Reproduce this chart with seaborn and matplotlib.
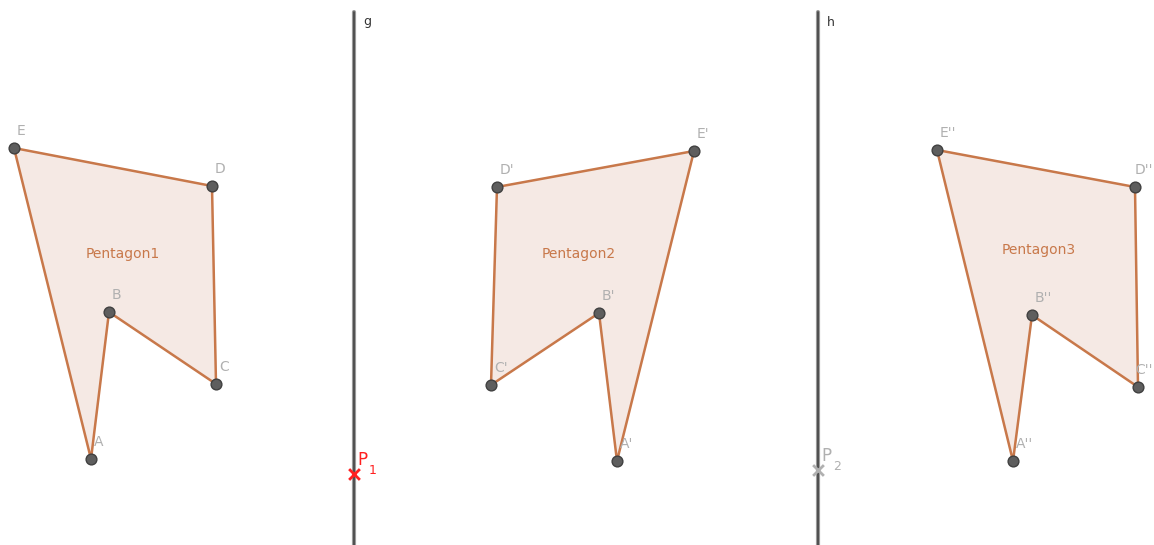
import matplotlib
matplotlib.use("Agg")
import matplotlib.pyplot as plt
import seaborn as sns
import pandas as pd

# vertex names and coordinates (screen units, y grows downward)
names1 = ["A", "B", "C", "D", "E"]
x1 = [91, 109, 216, 212, 14]
y1 = [459, 312, 384, 186, 148]

names2 = ["A'", "B'", "C'", "D'", "E'"]
x2 = [617, 599, 491, 497, 694]
y2 = [461, 313, 385, 187, 151]

names3 = ["A''", "B''", "C''", "D''", "E''"]
x3 = [1013, 1032, 1138, 1135, 937]
y3 = [461, 315, 387, 187, 150]

poly_labels = ["Pentagon1", "Pentagon2", "Pentagon3"]
poly_label_pos = [(123, 254), (579, 254), (1039, 250)]

# mirror lines
line_names = ["g", "h"]
line_x = [354, 818]
line_top = 12

# intersection points
pt_names = ["P", "P"]
pt_subs = ["1", "2"]
pt_x = [354, 818]
pt_y = [474, 470]

sns.set_style("white")
plt.rcParams["font.family"] = ["DejaVu Sans"]

edge_col = "#c8784a"
fill_col = "#f5e9e4"
pt_col = "#5e5e5e"
lab_col = "#b0b0b0"

fig = plt.figure(figsize=(11.54, 5.45), dpi=100)
ax = fig.add_axes([0, 0, 1, 1])
ax.set_xlim(0, 1154)
ax.set_ylim(545, 0)
ax.axis("off")

for lx in line_x:
    ax.plot([lx, lx], [line_top, 545], color="#9a9a9a", lw=3, zorder=1)
    ax.plot([lx, lx], [line_top, 545], color="#4a4a4a", lw=1.3, zorder=1)
for nm, lx in zip(line_names, line_x):
    ax.text(lx + 9, 22, nm, color="#333333", fontsize=9, va="center")

shapes = [(names1, x1, y1), (names2, x2, y2), (names3, x3, y3)]
for (names, xs, ys), lab, (lx, ly) in zip(shapes, poly_labels, poly_label_pos):
    ax.fill(xs, ys, color=fill_col, zorder=2)
    df = pd.DataFrame({"x": xs + xs[:1], "y": ys + ys[:1]})
    sns.lineplot(data=df, x="x", y="y", sort=False, color=edge_col, lw=1.8,
                 ax=ax, zorder=3, estimator=None)
    sns.scatterplot(x=xs, y=ys, color=pt_col, s=60, edgecolor="#404040",
                    linewidth=1, ax=ax, zorder=4)
    for nm, vx, vy in zip(names, xs, ys):
        if vx + 24 > 1154:
            ax.text(1153, vy - 10, nm, color=lab_col, fontsize=10, ha="right", va="bottom")
        else:
            ax.text(vx + 3, vy - 10, nm, color=lab_col, fontsize=10, ha="left", va="bottom")
    ax.text(lx, ly, lab, color=edge_col, fontsize=10, ha="center", va="center")

pt_colors = ["#ff2020", "#b0b0b0"]
for nm, sb, px, py, c in zip(pt_names, pt_subs, pt_x, pt_y, pt_colors):
    ax.scatter([px], [py], marker="x", color=c, s=60, linewidths=2, zorder=5)
    ax.text(px + 3, py - 5, nm, color=c, fontsize=12, ha="left", va="bottom")
    ax.text(px + 15, py - 3, sb, color=c, fontsize=9, ha="left", va="center")

ax.set_xlabel("")
ax.set_ylabel("")
fig.savefig("out.png", dpi=100)
